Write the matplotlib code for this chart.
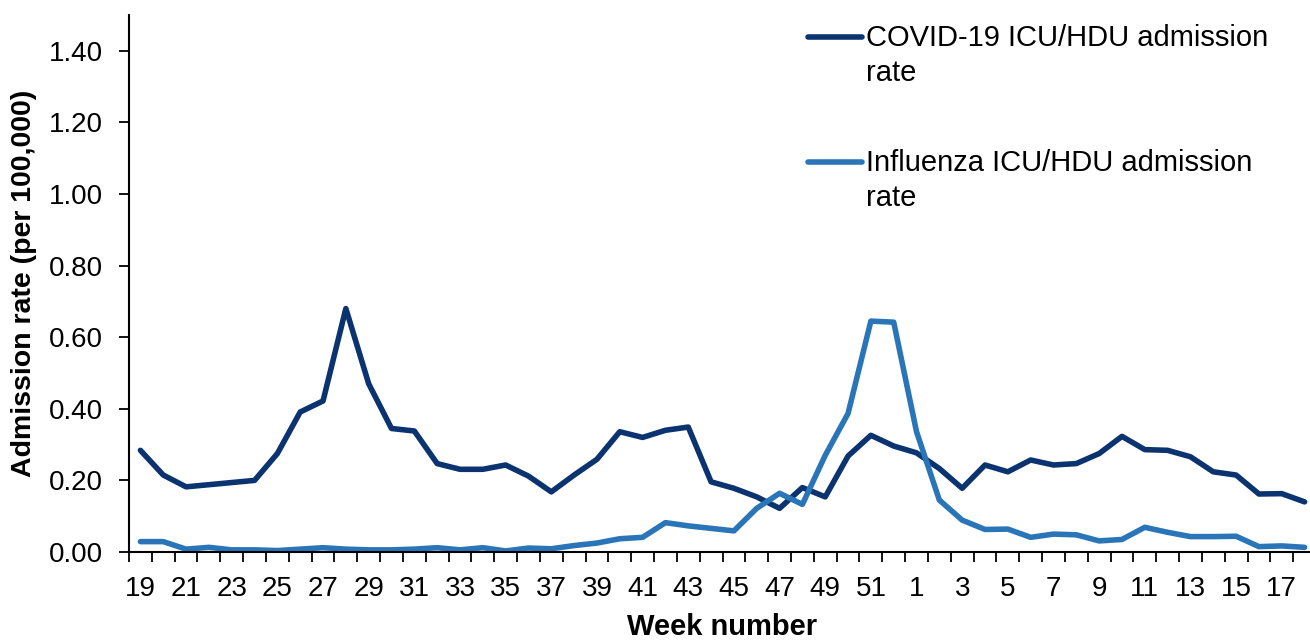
import matplotlib
matplotlib.use("Agg")
import matplotlib.pyplot as plt
from matplotlib.lines import Line2D
import numpy as np

plt.rcParams['font.family'] = ['Liberation Sans', 'DejaVu Sans']

# weeks 19..52 then 1..18
weeks = list(range(19, 53)) + list(range(1, 19))

covid = [0.284, 0.215, 0.182, 0.188, 0.194, 0.200, 0.275, 0.391, 0.422, 0.680,
         0.470, 0.345, 0.338, 0.247, 0.231, 0.231, 0.243, 0.212, 0.168, 0.215,
         0.259, 0.336, 0.320, 0.340, 0.349, 0.196, 0.178, 0.154, 0.122, 0.180,
         0.154, 0.268, 0.326, 0.296, 0.277, 0.233, 0.178, 0.243, 0.224, 0.257,
         0.243, 0.247, 0.275, 0.323, 0.286, 0.284, 0.266, 0.224, 0.215, 0.162,
         0.163, 0.140]

flu = [0.029, 0.029, 0.008, 0.013, 0.006, 0.006, 0.004, 0.008, 0.012, 0.008,
       0.006, 0.006, 0.008, 0.012, 0.006, 0.012, 0.003, 0.011, 0.009, 0.018,
       0.025, 0.037, 0.041, 0.082, 0.073, 0.066, 0.059, 0.122, 0.164, 0.133,
       0.270, 0.387, 0.645, 0.642, 0.336, 0.145, 0.089, 0.063, 0.064, 0.041,
       0.050, 0.048, 0.031, 0.035, 0.069, 0.055, 0.043, 0.043, 0.044, 0.015,
       0.017, 0.013]

labels = ['COVID-19 ICU/HDU admission\nrate', 'Influenza ICU/HDU admission\nrate']
colors = ['#0a3370', '#2a75b8']

W, H = 1310, 640
fig = plt.figure(figsize=(13.1, 6.4), dpi=100)
ax = fig.add_axes([129 / W, 1 - 552 / H, 1187 / W, (552 - 15) / H])

x = np.arange(len(weeks))
ax.plot(x, covid, color=colors[0], lw=4, solid_joinstyle='round', solid_capstyle='round')
ax.plot(x, flu, color=colors[1], lw=4, solid_joinstyle='round', solid_capstyle='round')

ax.set_xlim(-0.5, len(weeks) - 0.5)
ax.set_ylim(0, 1.5)
ax.set_yticks(np.arange(0, 1.41, 0.2))
ax.set_yticklabels(['%.2f' % v for v in np.arange(0, 1.41, 0.2)])

ax.set_xticks(x[::2])
ax.set_xticklabels([str(w) for w in weeks[::2]])
ax.set_xticks(np.arange(-0.5, len(weeks), 1), minor=True)
ax.tick_params(axis='x', which='major', length=0, pad=17, labelsize=20)
ax.tick_params(axis='x', which='minor', length=7, width=1.3, direction='out')
ax.tick_params(axis='y', length=7, width=1.3, labelsize=20, pad=12)

for s in ['top', 'right']:
    ax.spines[s].set_visible(False)
for s in ['left', 'bottom']:
    ax.spines[s].set_linewidth(1.5)

ax.set_ylabel('Admission rate (per 100,000)', fontsize=20.5, fontweight='bold', labelpad=8)
ax.set_xlabel('Week number', fontsize=21, fontweight='bold', labelpad=8)

# legend drawn by hand, handle level with first text line
for k, (lab, col) in enumerate(zip(labels, colors)):
    yy = 1 - (37 + k * 125) / H
    fig.add_artist(Line2D([808 / W, 862 / W], [yy, yy], color=col, lw=4,
                          solid_capstyle='round', transform=fig.transFigure))
    fig.text(866 / W, yy + 13 / H, lab, fontsize=21, va='top', ha='left',
             linespacing=1.32)

fig.savefig('out.png', dpi=100)
